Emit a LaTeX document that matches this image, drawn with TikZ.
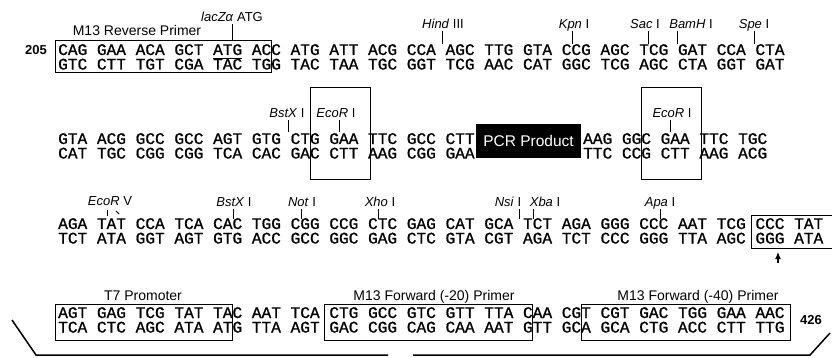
\documentclass[tikz,border=0pt]{standalone}
\usepackage{fontspec}
\setmainfont{Liberation Sans}
\newfontfamily\seqfont{Liberation Mono}[FakeBold=1]
\usetikzlibrary{arrows.meta}
\tikzset{
  seq/.style={anchor=base west, inner sep=0pt, font=\seqfont\fontsize{16.14pt}{16pt}\selectfont},
  site/.style={anchor=base, inner sep=0pt, yshift=2.5pt, font=\fontsize{13pt}{14pt}\selectfont},
  primer/.style={anchor=base, inner sep=0pt, font=\fontsize{14pt}{15pt}\selectfont},
  posn/.style={inner sep=0pt, font=\bfseries\fontsize{13pt}{14pt}\selectfont},
  pcr/.style={fill=black, text=white, inner sep=0pt, minimum width=105pt,
              minimum height=34pt, font=\fontsize{15.5pt}{16pt}\selectfont},
  tick/.style={line width=0.9pt},
  pbox/.style={line width=1pt},
  bar/.style={line width=1.5pt},
  up/.style={-{Latex[length=7pt,width=6pt]}, line width=1.2pt},
}
\begin{document}
\begin{tikzpicture}[x=1pt, y=-1pt]
  \useasboundingbox (0,0) rectangle (832,358);
  % first line, 205
  \node[posn, anchor=east] (n205) at (47,50) {205};
  \node[seq] (r1t) at (58,55) {CAG GAA ACA GCT ATG ACC ATG ATT ACG CCA AGC TTG GTA CCG AGC TCG GAT CCA CTA};
  \node[seq] (r1b) at (58,69.5) {GTC CTT TGT CGA TAC TGG TAC TAA TGC GGT TCG AAC CAT GGC TCG AGC CTA GGT GAT};
  \draw[pbox] (55,41) rectangle (271,73);
  \node[primer] (m13r) at (137,36) {M13 Reverse Primer};
  \draw[tick] (213,58) -- (242,58);
  \coordinate (atg) at (232,41);
  \draw[tick] (atg) -- ++(0,-17) node[site] (atgL) {\textit{lacZα} ATG};
  \coordinate (hind) at (442,44);
  \draw[tick] (hind) -- ++(0,-13) node[site, xshift=1pt] (hindL) {\textit{Hind} III};
  \coordinate (kpn) at (572,44);
  \draw[tick] (kpn) -- ++(0,-13) node[site, xshift=2pt] (kpnL) {\textit{Kpn} I};
  \coordinate (sac) at (648,44);
  \draw[tick] (sac) -- ++(0,-13) node[site, xshift=-3pt] (sacL) {\textit{Sac} I};
  \coordinate (bam) at (677,44);
  \draw[tick] (bam) -- ++(0,-13) node[site, xshift=14pt] (bamL) {\textit{BamH} I};
  \coordinate (spe) at (754,44);
  \draw[tick] (spe) -- ++(0,-13) node[site] (speL) {\textit{Spe} I};

  % second line, PCR product between the EcoR I sites
  \node[seq] (r2t) at (58,144) {GTA ACG GCC GCC AGT GTG CTG GAA TTC GCC CTT};
  \node[seq] (r2b) at (58,158.5) {CAT TGC CGG CGG TCA CAC GAC CTT AAG CGG GAA};
  \node[seq] (r2t2) at (583,144) {AAG GGC GAA TTC TGC};
  \node[seq] (r2b2) at (583,158.5) {TTC CCG CTT AAG ACG};
  \node[pcr] (pcr) at (528.5,141) {PCR Product};
  \draw[pbox] (310,88) rectangle (370,180);
  \draw[pbox] (641,88) rectangle (701,180);
  \coordinate (bstx1) at (288,132);
  \draw[tick] (bstx1) -- ++(0,-12) node[site, xshift=-1pt] (bstx1L) {\textit{BstX} I};
  \coordinate (ecoa) at (339,132);
  \draw[tick] (ecoa) -- ++(0,-12) node[site, xshift=-3pt] (ecoaL) {\textit{EcoR} I};
  \coordinate (ecob) at (670,132);
  \draw[tick] (ecob) -- ++(0,-12) node[site, xshift=2pt] (ecobL) {\textit{EcoR} I};

  % third line
  \node[seq] (r3t) at (58,229) {AGA TAT CCA TCA CAC TGG CGG CCG CTC GAG CAT GCA TCT AGA GGG CCC AAT TCG CCC TAT};
  \node[seq] (r3b) at (58,243.5) {TCT ATA GGT AGT GTG ACC GCC GGC GAG CTC GTA CGT AGA TCT CCC GGG TTA AGC GGG ATA};
  \draw[pbox] (833,215) -- (751,215) -- (751,248) -- (833,248);
  \coordinate (ttail) at (778,263);
  \coordinate (ttip) at (778,252);
  \draw[up] (ttail) -- (ttip);
  \coordinate (eco5) at (107,216);
  \draw[tick] (eco5) -- ++(0,-6) node[site, yshift=2pt, xshift=3pt] (eco5L) {\textit{EcoR} V};
  \draw[tick] (116,211) -- (119,214);
  \coordinate (bstx2) at (233,219);
  \draw[tick] (bstx2) -- ++(0,-10) node[site, xshift=1pt] (bstx2L) {\textit{BstX} I};
  \coordinate (noti) at (301,219);
  \draw[tick] (noti) -- ++(0,-10) node[site, xshift=1pt] (notiL) {\textit{Not} I};
  \coordinate (xho) at (378,219);
  \draw[tick] (xho) -- ++(0,-10) node[site, xshift=2pt] (xhoL) {\textit{Xho} I};
  \coordinate (nsi) at (519,219);
  \draw[tick] (nsi) -- ++(0,-10) node[site, xshift=-11pt] (nsiL) {\textit{Nsi} I};
  \coordinate (xba) at (533,219);
  \draw[tick] (xba) -- ++(0,-10) node[site, xshift=12pt] (xbaL) {\textit{Xba} I};
  \coordinate (apa) at (660,219);
  \draw[tick] (apa) -- ++(0,-10) node[site] (apaL) {\textit{Apa} I};

  % fourth line, 426
  \node[seq] (r4t) at (58,318) {AGT GAG TCG TAT TAC AAT TCA CTG GCC GTC GTT TTA CAA CGT CGT GAC TGG GAA AAC};
  \node[seq] (r4b) at (58,332.5) {TCA CTC AGC ATA ATG TTA AGT GAC CGG CAG CAA AAT GTT GCA GCA CTG ACC CTT TTG};
  \node[posn] (n426) at (811,320) {426};
  \draw[pbox] (55,304) rectangle (232,340);
  \draw[pbox] (324.5,304) rectangle (532.7,340);
  \draw[pbox] (581,304) rectangle (790,340);
  \node[primer] (t7) at (143,300) {T7 Promoter};
  \node[primer] (m13f20) at (434,300) {M13 Forward (-20) Primer};
  \node[primer] (m13f40) at (698,300) {M13 Forward (-40) Primer};
  \draw[bar] (12,320) -- (36,355) -- (388,355);
  \draw[bar] (413,355) -- (810,355) -- (830,333);
\end{tikzpicture}
\end{document}
